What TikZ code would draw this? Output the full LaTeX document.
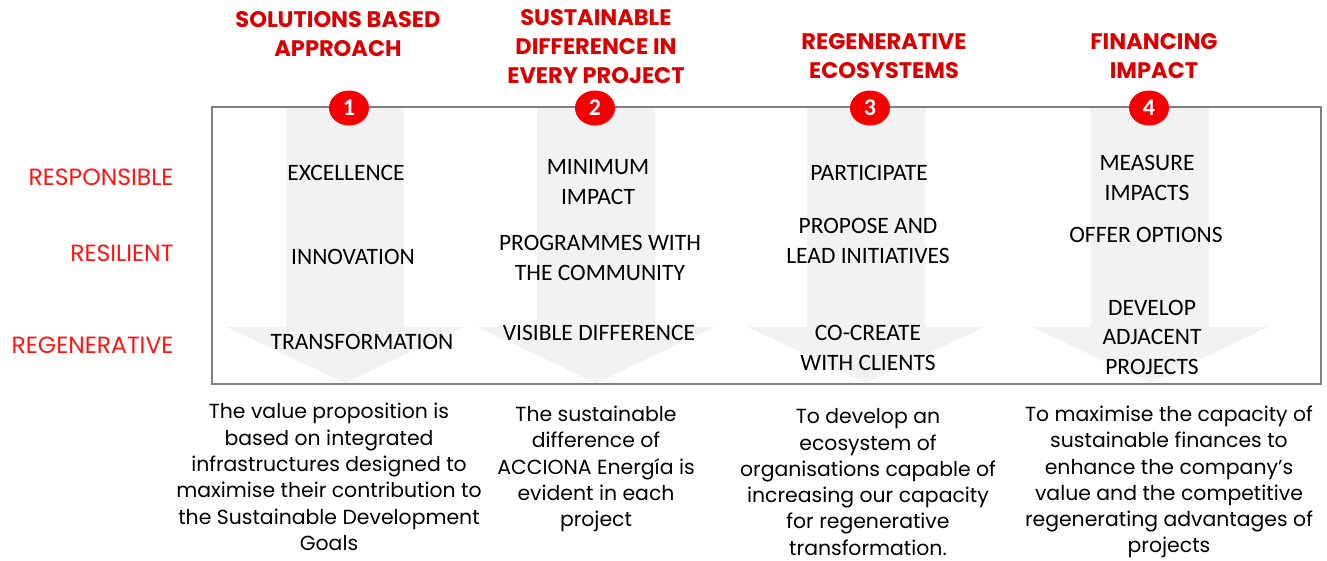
\documentclass[tikz,border=0pt]{standalone}
\usepackage{fontspec}
\setmainfont{Carlito}
\newfontfamily\gothic{Poppins}
\usetikzlibrary{shapes.geometric}
\definecolor{headred}{RGB}{218,0,0}
\definecolor{rowred}{RGB}{255,20,20}
\definecolor{badgered}{RGB}{245,0,0}
\definecolor{arrowgrey}{RGB}{242,242,242}
\definecolor{framegrey}{RGB}{128,128,128}
\begin{document}
\begin{tikzpicture}[x=1pt,y=-1pt,
  heading/.style={font=\gothic\bfseries\fontsize{22.5}{29}\selectfont,text=headred,align=center},
  level/.style={font=\gothic\fontsize{23.5}{26}\selectfont,text=rowred,anchor=east},
  item/.style={font=\fontsize{23.5}{29.5}\selectfont,align=center},
  aim/.style={font=\gothic\fontsize{20.4}{26.3}\selectfont,align=center},
  badge/.style={ellipse,fill=badgered,minimum width=40,minimum height=35,inner sep=0,
    text=white,font=\bfseries\fontsize{24}{24}\selectfont}]
  \useasboundingbox (0,0) rectangle (1327,560);
  % downward arrows
  \foreach \x in {345,596,866,1150}
    \fill[arrowgrey] (\x-59,107) -- (\x+59,107) -- (\x+59,327) -- (\x+118,327)
      -- (\x,383) -- (\x-118,327) -- (\x-59,327) -- cycle;
  \draw[framegrey,line width=2] (212,107) rectangle (1321,384);
  \foreach \n/\x in {1/349,2/595,3/870,4/1149}
    \node[badge] (b\n) at (\x,108) {\n};
  % headings
  \node[heading] (head1) at (338,34) {SOLUTIONS BASED\\APPROACH};
  \node[heading] (head2) at (596,47) {SUSTAINABLE\\DIFFERENCE IN\\EVERY PROJECT};
  \node[heading] (head3) at (884,56) {REGENERATIVE\\ECOSYSTEMS};
  \node[heading] (head4) at (1154,56) {FINANCING\\IMPACT};
  % levels
  \node[level] (resp) at (177,177) {RESPONSIBLE};
  \node[level] (resil) at (177,253) {RESILIENT};
  \node[level] (regen) at (177,345) {REGENERATIVE};
  % column 1
  \node[item] (excel) at (346,173) {EXCELLENCE};
  \node[item] (innov) at (353,257) {INNOVATION};
  \node[item] (trans) at (362,342) {TRANSFORMATION};
  % column 2
  \node[item] (minimp) at (598,182) {MINIMUM\\IMPACT};
  \node[item] (progr) at (600,258) {PROGRAMMES WITH\\THE COMMUNITY};
  \node[item] (visib) at (599,333) {VISIBLE DIFFERENCE};
  % column 3
  \node[item] (partic) at (869,173) {PARTICIPATE};
  \node[item] (propose) at (868,241) {PROPOSE AND\\LEAD INITIATIVES};
  \node[item] (cocreate) at (868,348) {CO-CREATE\\WITH CLIENTS};
  % column 4
  \node[item] (measure) at (1147,178) {MEASURE\\IMPACTS};
  \node[item] (offer) at (1146,235) {OFFER OPTIONS};
  \node[item] (adjac) at (1152,337) {DEVELOP\\ADJACENT\\PROJECTS};
  % descriptions
  \node[aim] (aim1) at (329,477) {The value proposition is\\based on integrated\\infrastructures designed to\\maximise their contribution to\\the Sustainable Development\\Goals};
  \node[aim] (aim2) at (596,469) {The sustainable\\difference of\\ACCIONA Energía is\\evident in each\\project};
  \node[aim] (aim3) at (868,482) {To develop an\\ecosystem of\\organisations capable of\\increasing our capacity\\for regenerative\\transformation.};
  \node[aim] (aim4) at (1169,482) {To maximise the capacity of\\sustainable finances to\\enhance the company’s\\value and the competitive\\regenerating advantages of\\projects};
\end{tikzpicture}
\end{document}
